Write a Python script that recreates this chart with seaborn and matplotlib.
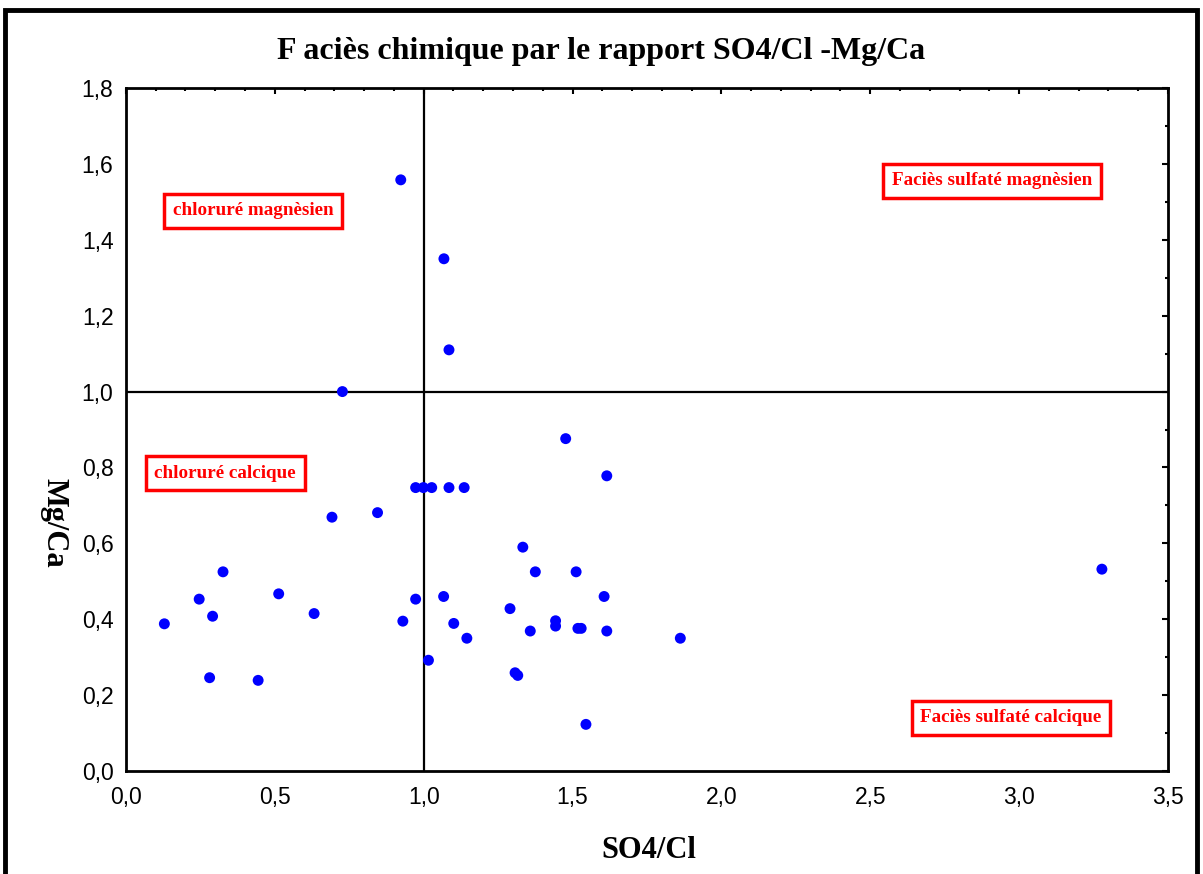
import numpy as np
import pandas as pd
import seaborn as sns
import matplotlib.pyplot as plt
from matplotlib.patches import Rectangle
from matplotlib.ticker import MultipleLocator

sns.set_theme(style="white")
plt.rcParams['font.family'] = ['Liberation Sans', 'DejaVu Sans']
plt.rcParams['text.color'] = 'black'
plt.rcParams['axes.labelcolor'] = 'black'

# SO4/Cl and Mg/Ca ratios
so4_cl = [0.727, 0.973, 0.999, 1.027, 1.085, 1.136, 0.692, 0.845, 1.333, 0.326,
          0.246, 0.291, 0.129, 0.513, 0.632, 0.930, 0.973, 1.067, 1.101, 1.145,
          1.016, 1.290, 1.307, 1.316, 0.281, 0.444, 1.477, 1.615, 1.375, 1.512,
          1.606, 1.443, 1.443, 1.358, 1.518, 1.529, 1.615, 1.862, 1.545, 0.923,
          1.068, 1.085, 3.278]
mg_ca = [1.000, 0.747, 0.747, 0.747, 0.747, 0.747, 0.669, 0.681, 0.590, 0.525,
         0.453, 0.408, 0.388, 0.467, 0.415, 0.395, 0.453, 0.460, 0.389, 0.350,
         0.292, 0.428, 0.259, 0.252, 0.246, 0.239, 0.876, 0.778, 0.525, 0.525,
         0.460, 0.396, 0.382, 0.369, 0.376, 0.376, 0.369, 0.350, 0.123, 1.558,
         1.350, 1.110, 0.532]

xticks = [0.0, 0.5, 1.0, 1.5, 2.0, 2.5, 3.0, 3.5]
xtick_labels = ["0,0", "0,5", "1,0", "1,5", "2,0", "2,5", "3,0", "3,5"]
yticks = [0.0, 0.2, 0.4, 0.6, 0.8, 1.0, 1.2, 1.4, 1.6, 1.8]
ytick_labels = ["0,0", "0,2", "0,4", "0,6", "0,8", "1,0", "1,2", "1,4", "1,6", "1,8"]

zones = ["chloruré magnèsien", "chloruré calcique",
         "Faciès sulfaté magnèsien", "Faciès sulfaté calcique"]
zone_x = [0.427, 0.333, 2.909, 2.973]
zone_y = [1.476, 0.785, 1.555, 0.140]

df = pd.DataFrame({"SO4/Cl": so4_cl, "Mg/Ca": mg_ca})

fig = plt.figure(figsize=(12.03, 8.74), dpi=100)
ax = fig.add_axes([0.1047, 0.1178, 0.8662, 0.7815])

sns.scatterplot(data=df, x="SO4/Cl", y="Mg/Ca", ax=ax, color="#0000FF",
                s=62, edgecolor="none", zorder=3)

ax.axvline(1.0, color="black", lw=1.6, zorder=2)
ax.axhline(1.0, color="black", lw=1.6, zorder=2)

ax.set_xlim(0, 3.5)
ax.set_ylim(0, 1.8)
ax.set_xticks(xticks)
ax.set_xticklabels(xtick_labels)
ax.set_yticks(yticks)
ax.set_yticklabels(ytick_labels)
ax.xaxis.set_minor_locator(MultipleLocator(0.1))
ax.yaxis.set_minor_locator(MultipleLocator(0.1))
ax.tick_params(which="both", direction="in", top=True, right=True,
               color="black", width=1.5, labelsize=16.5, labelcolor="black")
ax.tick_params(which="major", length=4)
ax.tick_params(which="minor", length=2.5)
ax.tick_params(axis="x", which="major", pad=11)
ax.tick_params(axis="y", which="major", pad=9)

for sp in ax.spines.values():
    sp.set_color("black")
    sp.set_linewidth(2)

serif = ["Liberation Serif", "DejaVu Serif"]
ax.set_xlabel("SO4/Cl", fontsize=22, fontweight="bold", family=serif,
              va="center", ha="center")
ax.xaxis.set_label_coords(0.502, -0.117)
ax.set_ylabel("Mg/Ca", fontsize=22, fontweight="bold", family=serif,
              rotation=270, va="center", ha="center")
ax.yaxis.set_label_coords(-0.069, 0.363)

fig.text(0.5, 0.941, "F aciès chimique par le rapport SO4/Cl -Mg/Ca",
         ha="center", va="center", fontsize=23, fontweight="bold", family=serif)

for label, x, y in zip(zones, zone_x, zone_y):
    ax.text(x, y, label, ha="center", va="center", color="red", fontsize=13.8,
            fontweight="bold", family=serif, zorder=4,
            bbox=dict(boxstyle="square,pad=0.45", fc="white", ec="red", lw=2.5))

fig.patches.append(Rectangle((0.004, -0.05), 0.991, 1.039, transform=fig.transFigure,
                             fill=False, ec="black", lw=3.5))

fig.savefig("out.png", dpi=100)
